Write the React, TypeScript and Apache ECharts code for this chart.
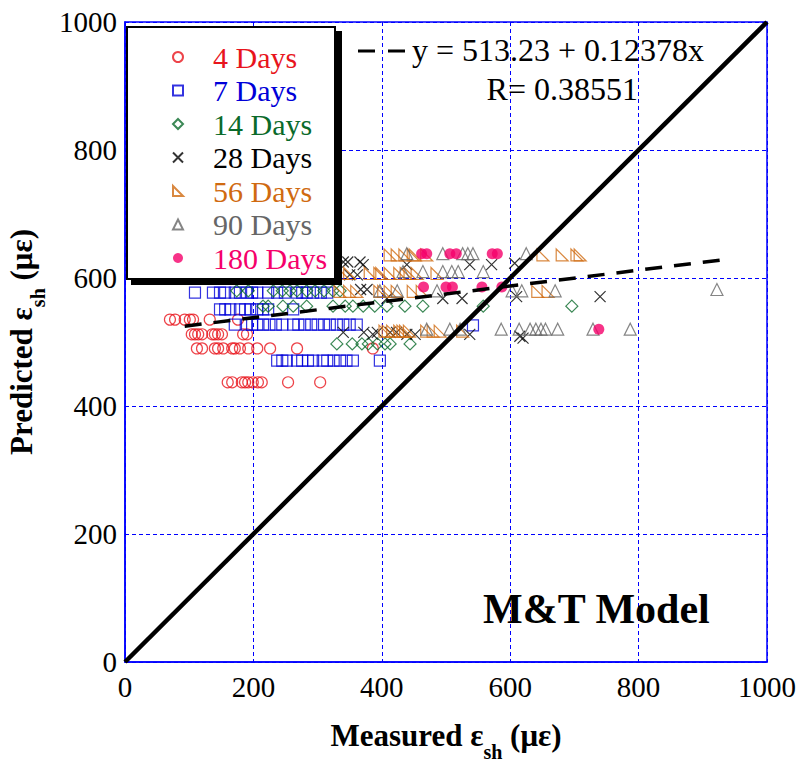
import React, { useEffect, useRef } from 'react';
import * as echarts from 'echarts';

const FONT = 'Liberation Serif';

const SERIES_NAMES = ['4 Days', '7 Days', '14 Days', '28 Days', '56 Days', '90 Days', '180 Days'];
const SERIES_COLORS = ['#e8141c', '#0000d8', '#0a6a2a', '#000000', '#d06a10', '#666666', '#f5006a'];

const DAYS_4 = [
  [70, 535], [78, 535], [93, 535], [101, 535], [106, 535], [132, 535], [176, 535],
  [104, 512], [109, 512], [114, 512], [120, 512], [136, 512], [140, 512], [145, 512], [151, 512], [184, 512], [190, 512],
  [112, 490], [120, 490], [140, 490], [145, 490], [153, 490], [167, 490], [171, 490], [179, 490], [192, 490], [206, 490], [226, 490], [268, 490], [386, 490],
  [160, 437], [167, 437], [182, 437], [187, 437], [192, 437], [199, 437], [207, 437], [213, 437], [254, 437], [304, 437],
];

const DAYS_7 = [
  [109, 577], [137, 577], [148, 577], [156, 577], [171, 577], [179, 577], [190, 577], [198, 577], [206, 577], [223, 577], [237, 577], [249, 577], [268, 577], [276, 577], [283, 577], [293, 577], [305, 577], [315, 577],
  [148, 551], [156, 551], [164, 551], [179, 551], [187, 551], [195, 551], [206, 551], [215, 551], [223, 551], [262, 551],
  [171, 527], [190, 527], [198, 527], [206, 527], [215, 527], [225, 527], [235, 527], [245, 527], [262, 527], [270, 527], [280, 527], [290, 527], [300, 527], [310, 527], [319, 527], [330, 527], [340, 527], [350, 527], [361, 527], [542, 526],
  [237, 471], [245, 471], [252, 471], [268, 471], [276, 471], [285, 471], [293, 471], [308, 471], [315, 471], [325, 471], [335, 471], [345, 471], [355, 471], [397, 471],
];

const DAYS_14 = [
  [174, 580], [192, 580], [231, 580], [245, 580], [257, 580], [268, 580], [283, 580], [296, 580], [310, 580], [324, 580], [335, 580],
  [215, 556], [223, 556], [246, 556], [262, 556], [283, 556], [324, 556], [343, 556], [355, 556], [371, 556], [389, 556], [408, 556], [436, 556], [464, 556], [558, 556], [696, 556],
  [330, 497], [354, 497], [369, 497], [379, 497], [393, 497], [405, 497], [413, 497], [444, 497],
];

const DAYS_28 = [
  [340, 625], [347, 625], [366, 625], [371, 621], [439, 621], [537, 621], [571, 621], [607, 623],
  [350, 605], [362, 605],
  [367, 582], [377, 582],
  [408, 568], [495, 568], [525, 568], [610, 571], [740, 571],
  [340, 515], [372, 515], [386, 512], [393, 515], [413, 515], [423, 515], [439, 512], [452, 512], [537, 512], [615, 509], [620, 506],
];

const DAYS_56 = [
  [413, 636], [424, 636], [436, 636], [449, 636], [452, 636], [470, 636], [651, 636], [681, 636], [704, 636], [709, 636],
  [340, 607], [350, 607], [382, 607], [397, 607], [400, 607], [413, 607], [428, 607], [438, 607], [444, 607], [455, 607], [486, 607],
  [335, 579], [350, 579], [361, 579], [397, 579], [403, 579], [413, 579], [424, 579], [449, 579], [463, 579], [643, 579], [659, 579],
  [405, 517], [410, 517], [417, 517], [428, 517], [433, 517], [437, 517], [443, 517], [470, 517], [480, 517], [491, 517], [526, 517],
];

const DAYS_90 = [
  [439, 638], [495, 638], [526, 638], [534, 638], [542, 638], [625, 638],
  [433, 610], [464, 610], [495, 610], [509, 610], [519, 610], [558, 610],
  [397, 580], [424, 580], [486, 580], [603, 580], [618, 580], [670, 580], [922, 582],
  [470, 520], [506, 520], [522, 520], [586, 520], [614, 520], [631, 520], [640, 520], [648, 520], [655, 520], [674, 520], [729, 520], [787, 520],
];

const DAYS_180 = [
  [462, 638], [470, 638], [506, 638], [516, 638], [572, 638], [580, 638],
  [465, 586], [500, 586], [510, 586], [556, 586], [587, 586],
  [738, 520],
];

const FIT_INTERCEPT = 513.23;
const FIT_SLOPE = 0.12378;
const FIT_R = 0.38551;
const FIT_X_RANGE = [93, 927];
const EQUALITY_LINE = [[0, 0], [1000, 1000]];

const AXIS_TICKS = [0, 200, 400, 600, 800, 1000];

const SERIES_DATA = [DAYS_4, DAYS_7, DAYS_14, DAYS_28, DAYS_56, DAYS_90, DAYS_180];
const SERIES_SYMBOLS = [
  'circle',
  'rect',
  'diamond',
  'path://M0,0L10,10M0,10L10,0',
  'path://M0,0L0,10L10,10Z',
  'triangle',
  'circle',
];
const SERIES_SIZES = [11, 11, 12, 11, 12, 12, 11];
const SERIES_FILLED = [false, false, false, false, false, false, true];

export default function App() {
  const ref = useRef<HTMLDivElement>(null);

  useEffect(() => {
    document.body.style.margin = '0';
    const chart = echarts.init(ref.current!, null, { renderer: 'svg' });

    const scatterSeries = SERIES_NAMES.map((name, i) => ({
      type: 'scatter',
      name,
      data: SERIES_DATA[i],
      symbol: SERIES_SYMBOLS[i],
      symbolSize: SERIES_SIZES[i],
      itemStyle: SERIES_FILLED[i]
        ? { color: SERIES_COLORS[i] }
        : { color: 'rgba(255,255,255,0)', borderColor: SERIES_COLORS[i], borderWidth: 1.2 },
      z: 2,
    }));

    const fitData = FIT_X_RANGE.map((x) => [x, FIT_INTERCEPT + FIT_SLOPE * x]);

    const legendText = { fontFamily: FONT, fontSize: 30, lineHeight: 30, padding: [0, 0, 0, 25] };

    const axisCommon = {
      min: AXIS_TICKS[0],
      max: AXIS_TICKS[AXIS_TICKS.length - 1],
      interval: AXIS_TICKS[1] - AXIS_TICKS[0],
      axisLine: { show: true, lineStyle: { color: '#0000ff', width: 1.5 } },
      axisTick: { show: false },
      splitLine: { show: true, lineStyle: { color: '#0000ff', width: 1, type: [4, 3] } },
      axisLabel: { fontFamily: FONT, fontSize: 29, color: '#000', formatter: (v: number) => String(v) },
      nameLocation: 'middle',
      nameTextStyle: {
        fontFamily: FONT,
        fontWeight: 'bold',
        fontSize: 31,
        color: '#000',
        rich: {
          a: { fontFamily: FONT, fontWeight: 'bold', fontSize: 31, color: '#000', verticalAlign: 'top', lineHeight: 31 },
          s: { fontFamily: FONT, fontWeight: 'bold', fontSize: 20, color: '#000', verticalAlign: 'bottom', lineHeight: 42 },
        },
      },
    };

    chart.setOption({
      animation: false,
      grid: {
        left: 125, top: 22, right: 33, bottom: 107,
        outerBoundsMode: 'none', containLabel: false,
        show: true, borderColor: '#0000ff', borderWidth: 1.5, backgroundColor: '#fff',
      },
      xAxis: {
        type: 'value',
        ...axisCommon,
        axisLabel: { ...axisCommon.axisLabel, margin: 10 },
        name: '{a|Measured ε}{s|sh}{a| (με)}',
        nameGap: 58,
      },
      yAxis: {
        type: 'value',
        ...axisCommon,
        axisLabel: { ...axisCommon.axisLabel, margin: 8 },
        name: '{a|Predicted ε}{s|sh}{a| (με)}',
        nameGap: 70,
      },
      legend: {
        orient: 'vertical',
        left: 167,
        top: 37,
        itemWidth: 10,
        itemHeight: 10,
        itemGap: 3.5,
        z: 20,
        selectedMode: false,
        data: SERIES_NAMES.map((n, i) => ({ name: n, textStyle: { ...legendText, color: SERIES_COLORS[i] } })),
        textStyle: legendText,
      },
      graphic: {
        elements: [
          { type: 'rect', z: 10, shape: { x: 131, y: 31, width: 211, height: 254 }, style: { fill: '#000' } },
          { type: 'rect', z: 11, shape: { x: 127, y: 27, width: 208, height: 252 }, style: { fill: '#fff', stroke: '#000', lineWidth: 2 } },
          { type: 'line', z: 10, shape: { x1: 358, y1: 51, x2: 406, y2: 51 }, style: { stroke: '#000', lineWidth: 3, lineDash: [17, 13] } },
          {
            type: 'text', z: 10, x: 412, y: 50,
            style: { text: `y = ${FIT_INTERCEPT} + ${FIT_SLOPE}x`, font: `32px "Liberation Serif"`, fill: '#000', align: 'left', verticalAlign: 'middle' },
          },
          {
            type: 'text', z: 10, x: 638, y: 89,
            style: { text: `R= ${FIT_R}`, font: `32px "Liberation Serif"`, fill: '#000', align: 'right', verticalAlign: 'middle' },
          },
          {
            type: 'text', z: 10, x: 483, y: 609,
            style: { text: 'M&T Model', font: `bold 42px "Liberation Serif"`, fill: '#000', align: 'left', verticalAlign: 'middle' },
          },
        ],
      },
      series: [
        ...scatterSeries,
        {
          type: 'line',
          name: 'fit',
          data: fitData,
          symbol: 'none',
          lineStyle: { color: '#000', width: 3.5, type: [17, 12] },
          z: 3,
        },
        {
          type: 'line',
          name: 'equality',
          data: EQUALITY_LINE,
          symbol: 'none',
          lineStyle: { color: '#000', width: 4.5 },
          z: 4,
        },
      ],
    });

    return () => chart.dispose();
  }, []);

  return <div ref={ref} style={{ width: 800, height: 769 }} />;
}
